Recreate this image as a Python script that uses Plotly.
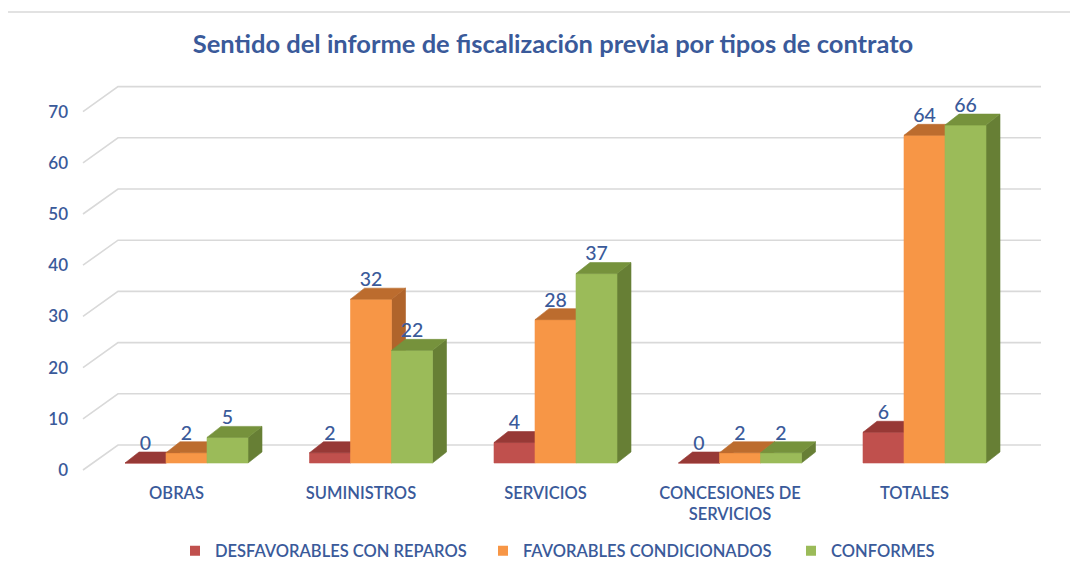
import plotly.graph_objects as go

# ---------------- data ----------------
categories = ["OBRAS", "SUMINISTROS", "SERVICIOS", "CONCESIONES DE<br>SERVICIOS", "TOTALES"]
series_names = ["DESFAVORABLES CON REPAROS", "FAVORABLES CONDICIONADOS", "CONFORMES"]
desfavorables = [0, 2, 4, 0, 6]
favorables = [2, 32, 28, 2, 64]
conformes = [5, 22, 37, 2, 66]
y_ticks = [0, 10, 20, 30, 40, 50, 60, 70]

series_values = [desfavorables, favorables, conformes]

# ---------------- style ----------------
front_colors = ["#C0504D", "#F79646", "#9BBB59"]
top_colors = ["#973936", "#BC6C2E", "#76923C"]
side_colors = ["#8E3532", "#B0642B", "#677F35"]
TEXT = "#3A5A9A"
GRID = "#D9D9D9"
FONT = "Lato"
WT = 600

W_PX, H_PX = 1078, 569
OFF = 8            # page body margin of the browser
# target geometry (page pixels)
X0_PX = 186.5      # pixel of category 0 centre
PXX = 184.5        # pixels per category
Y0_PX = 463.0      # pixel of value 0 (bar front)
PXY = 5.12         # pixels per unit value
P_LEFT, P_RIGHT, P_TOP, P_BOTTOM = 81, 1041, 80, 475
PW = P_RIGHT - P_LEFT
PH = P_BOTTOM - P_TOP
ML = P_LEFT - OFF
MT = P_TOP - OFF
MR = W_PX - (P_RIGHT - OFF)
MB = H_PX - (P_BOTTOM - OFF)

BAR_W = 41 / PXX
DX = 14 / PXX      # bar depth projection
DY = 11 / PXY
WALL_FX = (83 - X0_PX) / PXX
WALL_BX = (118 - X0_PX) / PXX
WALL_FY = -7 / PXY
WALL_BY = 18 / PXY
GRID_END = (1041 - X0_PX) / PXX
LABEL_SHIFT = -10 / PXX
LBL_UP = 7 / PXY

x_range = [(P_LEFT - X0_PX) / PXX, (P_RIGHT - X0_PX) / PXX]
y_range = [(Y0_PX - P_BOTTOM) / PXY, (Y0_PX - P_TOP) / PXY]


def px_x(p):
    return (p - P_LEFT) / PW


def px_y(p):
    return (P_BOTTOM - p) / PH


fig = go.Figure()

# back wall gridlines + left wall diagonals
gx, gy = [], []
for t in y_ticks:
    gx += [WALL_FX, WALL_BX, GRID_END, None]
    gy += [t + WALL_FY, t + WALL_BY, t + WALL_BY, None]
fig.add_trace(go.Scatter(x=gx, y=gy, mode="lines", line=dict(color=GRID, width=1.6),
                         hoverinfo="skip", showlegend=False))

# 3D-looking bars (left to right for correct overlap)
nser = len(series_values)
for i in range(len(categories)):
    for j in range(nser):
        v = series_values[j][i]
        x0 = i - nser * BAR_W / 2 + j * BAR_W
        x1 = x0 + BAR_W
        faces = [
            ([x1, x1 + DX, x1 + DX, x1, x1], [0, DY, v + DY, v, 0], side_colors[j]),
            ([x0, x1, x1, x0, x0], [0, 0, v, v, 0], front_colors[j]),
            ([x0, x1, x1 + DX, x0 + DX, x0], [v, v, v + DY, v + DY, v], top_colors[j]),
        ]
        for fx, fy, col in faces:
            fig.add_trace(go.Scatter(x=fx, y=fy, mode="lines", fill="toself", fillcolor=col,
                                     line=dict(color=col, width=0.6), hoverinfo="skip",
                                     showlegend=False))

# data labels
for j in range(nser):
    xs = [i - nser * BAR_W / 2 + (j + 0.5) * BAR_W for i in range(len(categories))]
    ys = [v + DY + LBL_UP for v in series_values[j]]
    fig.add_trace(go.Scatter(x=xs, y=ys, mode="text", text=[str(v) for v in series_values[j]],
                             textposition="middle center",
                             textfont=dict(family=FONT, size=19.5, color=TEXT, weight=500),
                             cliponaxis=False, hoverinfo="skip", showlegend=False))

# legend entries
for j in range(nser):
    fig.add_trace(go.Scatter(x=[None], y=[None], mode="markers", name=series_names[j],
                             marker=dict(symbol="square", size=10, color=front_colors[j])))

fig.update_layout(
    width=W_PX, height=H_PX,
    margin=dict(l=ML, r=MR, t=MT, b=MB, autoexpand=False),
    paper_bgcolor="white", plot_bgcolor="white",
    title=dict(text="Sentido del informe de fiscalización previa por tipos de contrato",
               x=px_x(553), xanchor="center", xref="paper",
               y=1 - (44 - OFF) / H_PX, yanchor="middle", yref="container",
               font=dict(family=FONT, size=25.5, color=TEXT, weight=700)),
    xaxis=dict(range=x_range, showgrid=False, zeroline=False, showline=False,
               tickvals=[i + LABEL_SHIFT for i in range(len(categories))], ticktext=categories,
               tickfont=dict(family=FONT, size=16.5, color=TEXT, weight=WT), ticks="",
               ticklabelstandoff=6),
    yaxis=dict(range=y_range, showgrid=False, zeroline=False, showline=False,
               tickvals=[t + WALL_FY for t in y_ticks], ticktext=[str(t) for t in y_ticks],
               tickfont=dict(family=FONT, size=17, color=TEXT, weight=WT), ticks="",
               ticklabelstandoff=12),
    legend=dict(orientation="h", x=px_x(175), xanchor="left",
                y=px_y(551), yanchor="middle",
                font=dict(family=FONT, size=16.5, color=TEXT, weight=WT), entrywidth=263),
    shapes=[dict(type="rect", xref="paper", yref="paper",
                 x0=px_x(5), x1=px_x(1100),
                 y0=px_y(600), y1=px_y(12),
                 line=dict(color="#D9D9D9", width=1.5), layer="below")],
)

fig.write_html("out.html")
